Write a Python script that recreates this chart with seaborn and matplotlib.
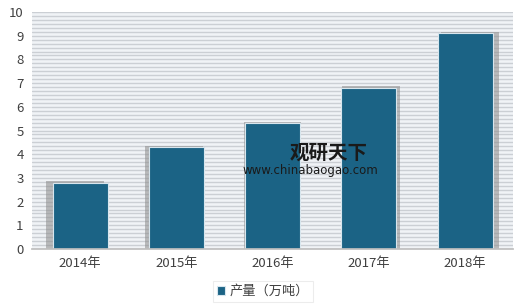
import matplotlib
matplotlib.use("Agg")
import matplotlib.pyplot as plt
import seaborn as sns
import numpy as np
import pandas as pd

years = ["2014年", "2015年", "2016年", "2017年", "2018年"]
output = [2.8, 4.3, 5.3, 6.8, 9.1]
series_name = "产量（万吨）"

sns.set_theme(style="white")
plt.rcParams['font.family'] = ['Noto Sans CJK SC', 'DejaVu Sans']

df = pd.DataFrame({"year": years, "value": output})

fig = plt.figure(figsize=(5.2, 3.05), dpi=100)
ax = fig.add_axes([0.0615, 0.1836, 0.9255, 0.777])
ax.set_facecolor("#f0f3f6")

# striped background
for y in np.arange(0, 10.01, 1 / 6):
    ax.axhline(y, color="#cbcfd4", lw=1.0, zorder=0)

# shadows
x = np.arange(len(years))
offs = (x - 2) * 0.025
ax.bar(x + offs, np.array(output) + 0.06, width=0.6, color="#8a8a8a", alpha=0.55,
       zorder=1, linewidth=0)

sns.barplot(data=df, x="year", y="value", color="#1b6385", saturation=1,
            width=0.57, ax=ax, zorder=2, edgecolor="#d8e6ee", linewidth=0.8,
            label=series_name)

ax.set_ylim(0, 10)
ax.set_xlim(-0.5, 4.5)
ax.set_yticks(range(0, 11))
ax.set_xlabel("")
ax.set_ylabel("")
for s in ["top", "right", "left"]:
    ax.spines[s].set_visible(False)
ax.spines["bottom"].set_color("#bfbfbf")
ax.tick_params(axis="both", labelsize=9.5, colors="#404040", length=0, pad=6)
ax.tick_params(axis="x", pad=6)

# watermark
ax.text(2.18, 4.05, "观研天下", fontsize=14, fontweight="bold", color="#1a1a1a",
        ha="left", va="center", zorder=5)
ax.text(1.69, 3.3, "www.chinabaogao.com", fontsize=8.5, color="#1a1a1a",
        ha="left", va="center", zorder=5, family=["DejaVu Sans"])

leg = ax.legend(loc="center", bbox_to_anchor=(0.48, -0.18), frameon=True,
                fontsize=9.5, handlelength=0.6, handleheight=0.6, handletextpad=0.3,
                borderpad=0.3, fancybox=False)
leg.get_frame().set_edgecolor("#e8e8e8")
leg.get_frame().set_linewidth(0.8)
for t in leg.get_texts():
    t.set_color("#404040")

fig.savefig("out.png", dpi=100)
